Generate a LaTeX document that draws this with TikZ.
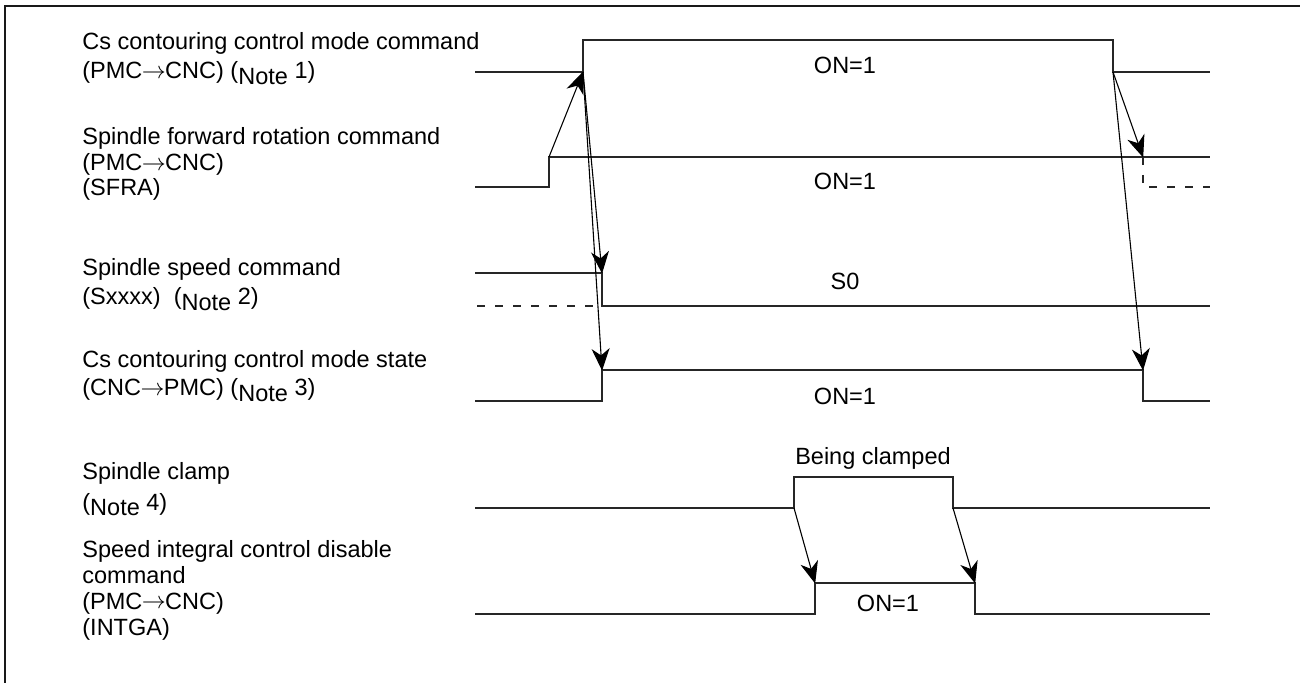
\documentclass[tikz,border=0pt]{standalone}
\usepackage{fontspec}
\setmainfont{Liberation Sans}
\usetikzlibrary{arrows.meta}
\newcommand\notetag[1]{(\raisebox{-2.7pt}{Note} #1)}
\newcommand\toarrow{\kern-0.3pt\raisebox{0.3pt}{$\rightarrow$}\kern-0.3pt}
\begin{document}
\begin{tikzpicture}[x=0.5pt,y=-0.5pt,
  lbl/.style={anchor=base west, inner sep=0pt, font=\fontsize{11.75pt}{13.5pt}\selectfont},
  val/.style={anchor=base, inner sep=0pt, font=\fontsize{11.75pt}{13.5pt}\selectfont},
  sig/.style={line width=0.6pt, draw=black!85},
  dsig/.style={sig, dash pattern=on 3.8pt off 5.2pt},
  arr/.style={-{Stealth[length=11pt,width=9pt,inset=3.4pt]}, line width=0.55pt, draw=black, shorten >=-0.3pt},
  frame/.style={line width=1.3pt, draw=black!90}]
\useasboundingbox (0,0) rectangle (1300,683);
% frame
\coordinate (fa) at (5,683);
\coordinate (fb) at (5,6);
\coordinate (fc) at (1300,6);
\draw[frame] (fa) -- (fb) -- (fc);

% ---------- labels ----------
\node[lbl] (l1a) at (82,50) {Cs contouring control mode command};
\node[lbl] (l1b) at (82,79) {(PMC\toarrow CNC) \notetag{1}};
\node[lbl] (l2a) at (82,145) {Spindle forward rotation command};
\node[lbl] (l2b) at (82,171) {(PMC\toarrow CNC)};
\node[lbl] (l2c) at (82,196) {(SFRA)};
\node[lbl] (l3a) at (82,276) {Spindle speed command};
\node[lbl] (l3b) at (82,305) {(Sxxxx)\ \ \notetag{2}};
\node[lbl] (l4a) at (82,368) {Cs contouring control mode state};
\node[lbl] (l4b) at (82,396) {(CNC\toarrow PMC) \notetag{3}};
\node[lbl] (l5a) at (82,480) {Spindle clamp};
\node[lbl] (l5b) at (82,510) {\notetag{4}};
\node[lbl] (l6a) at (82,557) {Speed integral control disable};
\node[lbl] (l6b) at (82,583) {command};
\node[lbl] (l6c) at (82,609) {(PMC\toarrow CNC)};
\node[lbl] (l6d) at (82,635) {(INTGA)};

% ---------- key points ----------
% row 1
\coordinate (r1s) at (475,72);
\coordinate (r1r) at (583,72);
\coordinate (r1rt) at (583,40);
\coordinate (r1ft) at (1113,40);
\coordinate (r1f) at (1113,72);
\coordinate (r1e) at (1210,72);
% row 2
\coordinate (r2s) at (475,187);
\coordinate (r2r) at (549,187);
\coordinate (r2rt) at (549,157);
\coordinate (r2d) at (1143,157);
\coordinate (r2e) at (1210,157);
\coordinate (r2db) at (1143,187);
\coordinate (r2de) at (1210,187);
% row 3
\coordinate (r3s) at (475,273);
\coordinate (r3c) at (602,273);
\coordinate (r3cb) at (602,306);
\coordinate (r3e) at (1210,306);
\coordinate (r3ds) at (477,306);
% row 4
\coordinate (r4s) at (475,401);
\coordinate (r4r) at (602,401);
\coordinate (r4rt) at (602,370);
\coordinate (r4ft) at (1143,370);
\coordinate (r4f) at (1143,401);
\coordinate (r4e) at (1210,401);
% row 5
\coordinate (r5s) at (475,508);
\coordinate (r5r) at (794,508);
\coordinate (r5rt) at (794,477);
\coordinate (r5ft) at (953,477);
\coordinate (r5f) at (953,508);
\coordinate (r5e) at (1210,508);
% row 6
\coordinate (r6s) at (475,614);
\coordinate (r6r) at (815,614);
\coordinate (r6rt) at (815,583);
\coordinate (r6ft) at (975,583);
\coordinate (r6f) at (975,614);
\coordinate (r6e) at (1210,614);

% ---------- waveforms ----------
\draw[sig] (r1s) -- (r1r) -- (r1rt) -- (r1ft) -- (r1f) -- (r1e);
\draw[sig] (r2s) -- (r2r) -- (r2rt) -- (r2e);
\draw[dsig] (r2d) -- (r2db) -- (r2de);
\draw[sig] (r3s) -- (r3c) -- (r3cb) -- (r3e);
\draw[dsig] (r3ds) -- (r3cb);
\draw[sig] (r4s) -- (r4r) -- (r4rt) -- (r4ft) -- (r4f) -- (r4e);
\draw[sig] (r5s) -- (r5r) -- (r5rt) -- (r5ft) -- (r5f) -- (r5e);
\draw[sig] (r6s) -- (r6r) -- (r6rt) -- (r6ft) -- (r6f) -- (r6e);

% ---------- values ----------
\node[val] (v1) at (845,74) {ON=1};
\node[val] (v2) at (845,190) {ON=1};
\node[val] (v3) at (845,290) {S0};
\node[val] (v4) at (845,405) {ON=1};
\node[val] (v5) at (873,465) {Being clamped};
\node[val] (v6) at (888,611) {ON=1};

% ---------- causal arrows ----------
\draw[arr] (r2rt) -- (r1r);
\draw[arr] (r1r) -- (r3c);
\draw[arr] (r1r) -- (r4rt);
\draw[arr] (r1f) -- (r2d);
\draw[arr] (r1f) -- (r4ft);
\draw[arr] (r5r) -- (r6rt);
\draw[arr] (r5f) -- (r6ft);
\end{tikzpicture}
\end{document}
